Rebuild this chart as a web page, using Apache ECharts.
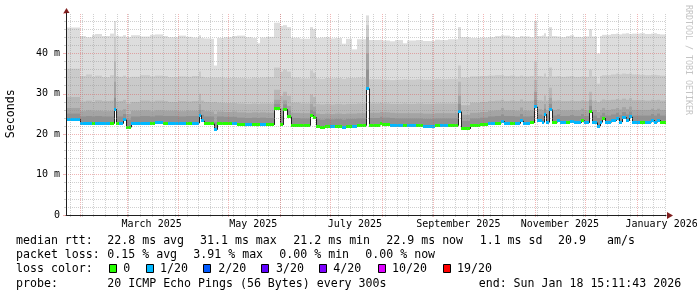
<!DOCTYPE html>
<html><head><meta charset="utf-8">
<script src="https://cdn.jsdelivr.net/npm/echarts@6/dist/echarts.min.js"></script>
<style>html,body{margin:0;padding:0;background:#fff}#c{width:697px;height:297px}</style>
</head><body><div id="c"></div>
<script>
// ---- time frame (days since start of graph) ----
const START = Date.UTC(2025, 0, 23, 15, 11, 43);
const END = Date.UTC(2026, 0, 18, 15, 11, 43);
const DAY = 86400000;
const SPAN_DAYS = (END - START) / DAY; // 360

// ---- segments: start day of each step ----
const segStart = [0.0,8.1,12.0,15.6,17.4,21.6,26.4,28.5,29.7,31.8,34.2,35.7,38.7,44.4,50.4,53.4,58.2,61.2,67.2,72.0,75.6,79.5,81.0,82.8,86.4,88.8,90.3,94.8,99.6,102.6,107.4,111.6,114.6,116.4,120.0,124.8,128.4,130.2,132.6,135.0,140.4,146.4,148.2,150.0,152.4,155.4,158.4,161.4,165.6,168.0,171.6,174.6,180.0,181.5,188.4,189.6,194.4,197.4,202.2,204.6,210.0,214.2,221.4,224.4,229.2,235.2,236.7,242.4,248.4,253.2,257.4,261.0,262.8,266.4,269.4,272.4,274.2,278.4,280.8,282.3,285.6,286.5,287.7,289.8,291.3,294.6,296.4,300.0,302.4,304.8,309.0,310.8,313.8,315.3,318.6,320.4,321.6,323.4,327.0,330.0,331.8,333.6,336.0,337.8,339.6,344.4,347.4,351.0,352.8,354.6,356.4];
// median rtt (ms)
const median = [23.7,22.6,22.6,22.6,22.6,22.6,22.6,26.2,22.6,22.6,23.6,21.7,22.6,22.6,22.6,22.8,22.7,22.7,22.6,22.6,22.7,24.7,23.3,22.6,22.6,21.1,22.6,22.6,22.6,22.3,22.3,22.3,22.3,22.3,22.3,26.3,22.3,26.2,24.3,22.1,22.1,24.7,24.2,21.9,21.7,21.9,21.8,22.0,21.7,22.0,21.9,22.1,31.3,22.2,22.7,22.3,22.2,22.1,22.1,22.1,22.1,22.0,22.1,22.1,22.1,25.6,21.3,22.1,22.3,22.6,22.7,23.2,22.7,22.7,22.6,23.3,22.6,22.8,26.8,23.3,22.9,25.0,22.9,26.1,22.9,23.3,22.8,22.8,23.1,22.8,23.4,22.8,25.5,22.9,22.0,22.9,24.0,22.9,23.3,24.0,23.0,24.2,23.3,24.3,22.9,22.9,22.9,23.5,22.9,23.5,22.9];
// packet loss class (index into lossColors)
const lossIdx = [1,1,1,0,1,1,0,1,0,1,1,0,1,1,0,1,0,1,1,0,1,1,1,0,0,1,0,0,1,0,1,0,0,1,0,0,0,0,0,0,0,0,0,0,0,0,1,0,1,0,1,0,1,0,0,0,1,1,0,1,0,1,0,1,0,1,0,0,0,1,0,1,1,0,1,1,1,0,1,1,1,1,1,1,0,1,1,0,1,1,0,1,0,1,1,1,0,1,1,1,1,1,1,1,1,0,1,1,1,1,0];
// smoke: upper pings (ms), ping16 = innermost shown, ping20 = max
const ping16 = [25.1,24.4,24.5,24.4,24.5,24.4,24.4,29.0,24.4,24.4,25.0,23.6,24.4,24.5,24.4,24.6,24.5,24.5,24.4,24.5,24.5,26.0,24.8,24.4,24.4,23.0,24.4,24.3,24.3,24.1,24.0,24.1,24.0,24.1,24.0,27.5,24.5,27.4,25.8,24.0,23.9,26.0,25.6,23.8,23.6,23.8,23.7,23.8,23.6,23.8,23.8,23.9,36.0,24.0,24.3,24.1,24.0,23.9,23.9,23.9,23.9,23.8,23.9,23.9,23.9,27.5,23.3,23.9,24.1,24.4,24.5,24.9,24.5,24.5,24.4,25.0,24.4,24.5,28.5,24.9,24.6,26.3,24.6,27.5,24.6,24.9,24.5,24.5,24.7,24.5,25.0,24.5,27.0,24.6,24.0,24.6,25.3,24.6,24.9,25.3,24.7,25.5,24.9,25.6,24.6,24.6,24.6,25.0,24.6,25.1,24.6];
const ping17 = [26.5,25.7,25.9,25.7,25.8,25.7,25.8,33.0,25.7,25.8,26.2,25.0,25.8,25.9,25.7,25.9,25.8,25.8,25.7,25.8,25.8,27.5,26.0,25.7,25.6,25.0,25.6,25.5,25.6,25.4,25.3,25.4,25.3,25.4,25.3,28.5,26.5,28.4,27.0,25.3,25.2,27.5,26.8,25.1,25.0,25.1,25.0,25.1,25.0,25.1,25.1,25.2,40.0,25.3,25.5,25.4,25.3,25.2,25.2,25.2,25.2,25.1,25.2,25.2,25.2,29.5,24.8,25.3,25.5,25.8,25.9,26.5,25.9,25.9,25.8,26.6,25.8,25.9,30.5,26.2,26.0,27.5,26.0,29.0,26.0,26.2,25.9,25.9,26.0,25.9,26.3,25.9,28.5,26.0,25.5,26.0,26.5,26.0,26.2,26.5,26.1,26.7,26.2,26.8,26.0,26.0,26.0,26.3,26.0,26.3,26.0];
const ping18 = [29.2,28.1,28.3,28.0,28.4,28.2,28.3,38.0,28.1,28.2,28.5,27.6,28.0,28.3,28.1,28.3,28.2,28.0,28.2,28.1,28.2,30.0,28.3,28.0,27.9,28.0,27.8,27.7,27.7,27.6,27.5,27.6,27.5,27.6,27.6,31.0,29.5,30.5,29.5,27.8,27.6,29.8,29.2,27.5,27.4,27.5,27.4,27.5,27.4,27.5,27.5,27.6,44.0,27.6,27.7,27.6,27.5,27.5,27.6,27.5,27.6,27.5,27.6,27.6,27.6,33.0,27.2,27.8,28.0,28.2,28.3,28.5,28.2,28.3,28.2,28.6,28.2,28.3,33.5,28.4,28.3,29.6,28.3,31.5,28.3,28.4,28.2,28.2,28.3,28.2,28.4,28.2,30.5,28.3,28.0,28.3,28.6,28.4,28.5,28.7,28.5,28.8,28.5,28.9,28.4,28.4,28.3,28.5,28.4,28.5,28.3];
const ping19 = [36.2,34.4,34.8,34.2,34.5,34.1,34.6,44.0,34.3,34.2,34.5,34.0,34.2,34.6,34.3,34.5,34.4,34.1,34.3,34.2,34.4,35.5,34.2,34.0,34.0,34.0,34.0,33.9,34.0,33.9,33.8,34.0,33.9,34.0,34.1,36.5,35.5,36.0,35.5,34.0,33.8,35.8,35.2,33.8,33.7,33.9,33.8,33.9,33.7,33.9,33.9,34.0,47.0,33.6,33.6,33.5,33.4,33.5,33.6,33.5,33.6,33.5,33.7,33.6,33.7,37.0,34.0,34.3,34.4,34.5,34.6,34.6,34.4,34.5,34.3,34.5,34.3,34.4,38.0,34.4,34.3,35.0,34.2,36.5,34.3,34.4,34.2,34.3,34.4,34.2,34.3,34.2,36.0,34.3,32.5,34.4,34.6,34.6,34.8,35.0,34.8,35.0,34.9,35.0,34.8,34.7,34.6,34.7,34.7,34.6,34.5];
const ping20 = [46.4,44.3,44.0,44.6,44.8,44.3,44.9,48.0,44.4,44.2,44.5,44.0,44.5,44.2,44.6,44.7,44.3,44.0,44.4,44.1,43.9,44.5,43.8,43.7,43.6,37.0,43.8,44.0,44.3,44.4,44.0,43.8,42.5,43.9,44.1,47.6,46.8,47.0,46.5,43.9,43.6,46.5,46.0,43.8,43.9,44.0,43.7,43.8,42.4,43.6,41.0,43.5,49.4,43.3,43.4,43.2,43.0,43.3,42.5,43.2,43.3,43.1,43.4,43.3,43.5,46.5,44.0,43.8,43.9,44.0,44.3,44.5,44.4,44.2,44.0,44.3,44.2,44.0,48.0,44.3,44.4,45.0,44.2,46.5,44.3,44.2,44.0,44.3,44.5,44.1,44.0,44.2,46.0,44.2,40.0,44.3,44.6,44.6,44.8,44.9,44.7,44.9,45.0,44.8,44.9,45.0,44.8,44.9,45.0,44.8,44.7];

// ---- axes text ----
const yTickLabels = ['0', '10 m', '20 m', '30 m', '40 m'];
const monthStarts = [[2025,1],[2025,2],[2025,3],[2025,4],[2025,5],[2025,6],[2025,7],[2025,8],[2025,9],[2025,10],[2025,11],[2026,0]];
const monthLabels = ['March 2025', 'May 2025', 'July 2025', 'September 2025', 'November 2025', 'January 2026'];
const monthLabelDates = [[2025,2,16],[2025,4,16],[2025,6,16],[2025,8,16],[2025,10,16],[2026,0,16]];

// ---- legend ----
const lossColors = ['#26ff00', '#00b8ff', '#0059ff', '#5e00ff', '#7e00ff', '#dd00ff', '#ff0000'];
const lossLabels = ['0', '1/20', '2/20', '3/20', '4/20', '10/20', '19/20'];
const smokeColors = ['#dddddd', '#cacaca', '#b7b7b7', '#a4a4a4', '#919191'];
const rttLine = ['median rtt:', '22.8 ms avg', '31.1 ms max', '21.2 ms min', '22.9 ms now', '1.1 ms sd', '20.9', 'am/s'];
const lossLine = ['packet loss:', '0.15 % avg', '3.91 % max', '0.00 % min', '0.00 % now'];
const probeLine = ['probe:', '20 ICMP Echo Pings (56 Bytes) every 300s', 'end: Sun Jan 18 15:11:43 2026'];

const dayOf = (y, m, d) => (Date.UTC(y, m, d) - START) / DAY;

const chart = echarts.init(document.getElementById('c'), null, {renderer: 'canvas', width: 697, height: 297});

const segEnd = segStart.slice(1).concat([SPAN_DAYS]);
const smokeData = segStart.map((s, i) => [s, segEnd[i], median[i], ping16[i], ping17[i], ping18[i], ping19[i], ping20[i]]);
const medData = segStart.map((s, i) => [s, segEnd[i], median[i], lossIdx[i], i > 0 ? median[i - 1] : median[i]]);

// grid lines (weeks on Sundays, months)
const gridData = [];
for (let t = Date.UTC(2025, 0, 26); t <= END; t += 7 * DAY) gridData.push([(t - START) / DAY, 0]);
monthStarts.forEach(m => gridData.push([dayOf(m[0], m[1], 1), 1]));

const MINOR = 'rgba(143,143,143,0.42)';
const MAJOR = 'rgba(222,79,79,0.42)';
const MONO = '"DejaVu Sans Mono", monospace';

chart.setOption({
  animation: false,
  backgroundColor: '#ffffff',
  grid: {left: 66, right: 31, top: 13, bottom: 82, containLabel: false, outerBoundsMode: 'none'},
  xAxis: {
    type: 'value', min: 0, max: SPAN_DAYS, z: 5,
    axisLine: {show: true, onZero: false, lineStyle: {color: '#1f1f1f', width: 1}},
    axisTick: {show: false}, axisLabel: {show: false}, splitLine: {show: false}
  },
  yAxis: {
    type: 'value', min: 0, max: 50, interval: 10, z: 5,
    axisLine: {show: true, lineStyle: {color: '#1f1f1f', width: 1}},
    axisTick: {show: true, length: 3, lineStyle: {color: MAJOR}},
    minorTick: {show: true, splitNumber: 5, length: 2, lineStyle: {color: MINOR}},
    splitLine: {show: true, showMaxLine: false, lineStyle: {color: MAJOR, type: [1, 1], width: 1}},
    minorSplitLine: {show: true, lineStyle: {color: MINOR, type: [1, 1], width: 1}},
    axisLabel: {margin: 6, fontFamily: MONO, fontSize: 10, color: '#000',
      formatter: v => yTickLabels[Math.round(v / 10)] || ''}
  },
  series: [
    {
      type: 'custom', name: 'smoke', z: 2, silent: true,
      data: smokeData,
      renderItem: (params, api) => {
        const x0 = Math.round(api.coord([api.value(0), 0])[0]);
        const x1 = Math.round(api.coord([api.value(1), 0])[0]);
        const yb = api.coord([0, api.value(2)])[1];
        const children = [];
        for (let k = 0; k < 5; k++) {
          const yt = api.coord([0, api.value(7 - k)])[1];
          children.push({type: 'rect', shape: {x: x0, y: yt, width: x1 - x0, height: yb - yt},
            style: {fill: smokeColors[k]}});
        }
        return {type: 'group', children};
      }
    },
    {
      type: 'custom', name: 'median', z: 3, silent: true,
      data: medData,
      renderItem: (params, api) => {
        const x0 = Math.round(api.coord([api.value(0), 0])[0]);
        const x1 = Math.round(api.coord([api.value(1), 0])[0]);
        const yc = api.coord([0, api.value(2)])[1];
        const yp = api.coord([0, api.value(4)])[1];
        const children = [];
        if (Math.abs(yp - yc) > 0.5) {
          children.push({type: 'line', shape: {x1: x0 + 0.5, y1: yp, x2: x0 + 0.5, y2: yc},
            style: {stroke: '#202020', lineWidth: 1}});
        }
        const top = Math.round(yc - 1.5);
        children.push({type: 'rect', shape: {x: x0, y: top, width: Math.max(1, x1 - x0), height: 3},
          style: {fill: lossColors[api.value(3)]}});
        return {type: 'group', children};
      }
    },
    {
      type: 'custom', name: 'vgrid', z: 5, silent: true,
      data: gridData,
      renderItem: (params, api) => {
        const d = api.value(0);
        const x = Math.round(api.coord([d, 0])[0]) + 0.5;
        const y0 = api.coord([d, 0])[1];
        const y1 = api.coord([d, 50])[1];
        return {type: 'line', shape: {x1: x, y1: y0 + 2, x2: x, y2: y1},
          style: {stroke: api.value(1) ? MAJOR : MINOR, lineWidth: 1, lineDash: [1, 1]}};
      }
    }
  ]
});

// ---- text & decorations ----
const g = [];
const txt = (x, y, text, opts) => Object.assign({type: 'text', x, y, silent: true,
  style: Object.assign({text, font: '11.6px ' + MONO, fill: '#000', textAlign: 'left', textVerticalAlign: 'middle', align: 'left', verticalAlign: 'middle'}, (opts && opts.style) || {})},
  (opts && opts.el) || {});

monthLabelDates.forEach((d, i) => {
  const px = chart.convertToPixel({xAxisIndex: 0}, dayOf(d[0], d[1], d[2]));
  g.push(txt(px, 224.5, monthLabels[i], {style: {font: '10px ' + MONO, textAlign: 'center', align: 'center'}}));
});

g.push(txt(11, 113.7, 'Seconds', {style: {textAlign: 'center', align: 'center'}, el: {rotation: Math.PI / 2}}));
g.push(txt(688, 60, 'RRDTOOL / TOBI OETIKER', {style: {font: '8.3px ' + MONO, fill: '#c4c4c4', textAlign: 'center', align: 'center'}, el: {rotation: -Math.PI / 2}}));

// arrows
g.push({type: 'polygon', silent: true, shape: {points: [[63.5, 13], [69.5, 13], [66.5, 8]]}, style: {fill: '#801f1f'}});
g.push({type: 'polygon', silent: true, shape: {points: [[667, 212], [667, 219], [673, 215.5]]}, style: {fill: '#801f1f'}});

const rttX = [16, 107.3, 200, 293.3, 386.3, 479.7, 558, 607];
rttLine.forEach((s, i) => g.push(txt(rttX[i], 241.3, s)));
const lossX = [16, 107.3, 193.3, 279.3, 365.3];
lossLine.forEach((s, i) => g.push(txt(lossX[i], 255.3, s)));
g.push(txt(16, 269.3, 'loss color:'));
const boxX = [108.7, 145.7, 203.3, 261.3, 319.3, 377.7, 442.7];
const boxLabelX = [123.3, 160, 218.3, 276, 333.3, 392, 457];
lossColors.forEach((c, i) => {
  g.push({type: 'rect', silent: true, shape: {x: Math.round(boxX[i]) + 0.5, y: 264.5, width: 7, height: 8},
    style: {fill: c, stroke: '#000', lineWidth: 1}});
  g.push(txt(boxLabelX[i], 269.3, lossLabels[i]));
});
const probeX = [16, 107.3, 478.7];
probeLine.forEach((s, i) => g.push(txt(probeX[i], 283.7, s)));

chart.setOption({graphic: {elements: g}});
</script>
</body></html>
